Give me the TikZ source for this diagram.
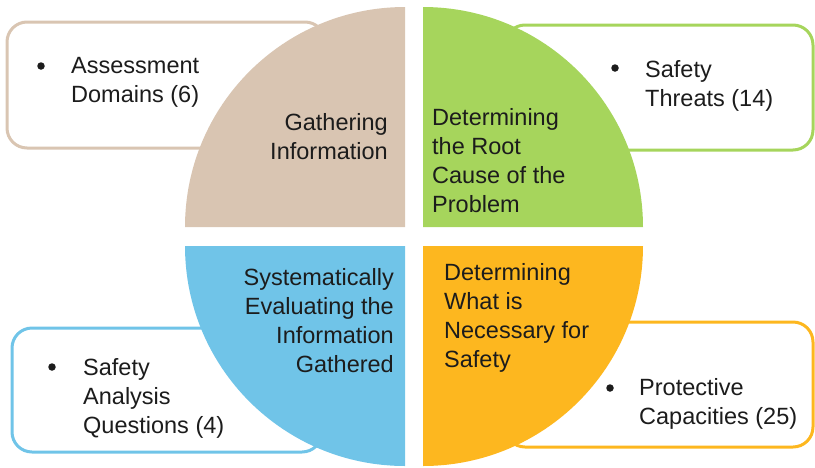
\documentclass[tikz,border=0pt]{standalone}
\usepackage{fontspec}
\setmainfont{Liberation Sans}
\definecolor{tanc}{RGB}{217,197,178}
\definecolor{greenc}{RGB}{166,213,92}
\definecolor{bluec}{RGB}{112,196,232}
\definecolor{orangec}{RGB}{253,183,31}
\definecolor{ink}{RGB}{28,28,28}
\tikzset{txt/.style={font=\fontsize{23.5}{29}\selectfont, inner sep=0pt, text=ink},
         dot/.style={circle, fill=ink, inner sep=0pt, minimum size=7.5pt},
         itembox/.style={draw=#1, line width=3pt, fill=white, rounded corners=20pt}}

\begin{document}
\begin{tikzpicture}[x=1pt, y=-1pt]
\useasboundingbox (0,0) rectangle (815,467);
% boxes behind the quarters
\draw[itembox=tanc] (7,22) rectangle (325,148);
\draw[itembox=greenc] (505,25) rectangle (813,150);
\draw[itembox=bluec] (12,328) rectangle (322,452);
\draw[itembox=orangec] (505,322) rectangle (813,447);
% the four quarters
\fill[tanc] (405,227) -- (185,227) arc[start angle=180, end angle=270, radius=220] -- cycle;
\fill[greenc] (423,227) -- (423,7) arc[start angle=270, end angle=360, radius=220] -- cycle;
\fill[bluec] (405,246) -- (405,466) arc[start angle=90, end angle=180, radius=220] -- cycle;
\fill[orangec] (423,246) -- (643,246) arc[start angle=0, end angle=90, radius=220] -- cycle;
% quarter labels
\node[txt, anchor=north east, align=right] (gather) at (388,113) {Gathering\\Information};
\node[txt, anchor=north west, align=left] (root) at (432,108) {Determining\\the Root\\Cause of the\\Problem};
\node[txt, anchor=north east, align=right] (evaluate) at (394,268) {Systematically\\Evaluating the\\Information\\Gathered};
\node[txt, anchor=north west, align=left] (needed) at (444,263) {Determining\\What is\\Necessary for\\Safety};
% bullet items
\node[dot] (assessdot) at (41,66) {};
\node[txt, anchor=north west, align=left] (assess) at (71,57) {Assessment\\Domains (6)};
\node[dot] (threatdot) at (615,68) {};
\node[txt, anchor=north west, align=left] (threat) at (645,60) {Safety\\Threats (14)};
\node[dot] (questdot) at (52,367) {};
\node[txt, anchor=north west, align=left] (quest) at (83,358) {Safety\\Analysis\\Questions (4)};
\node[dot] (protdot) at (610,388) {};
\node[txt, anchor=north west, align=left] (prot) at (639,378) {Protective\\Capacities (25)};
\end{tikzpicture}
\end{document}
